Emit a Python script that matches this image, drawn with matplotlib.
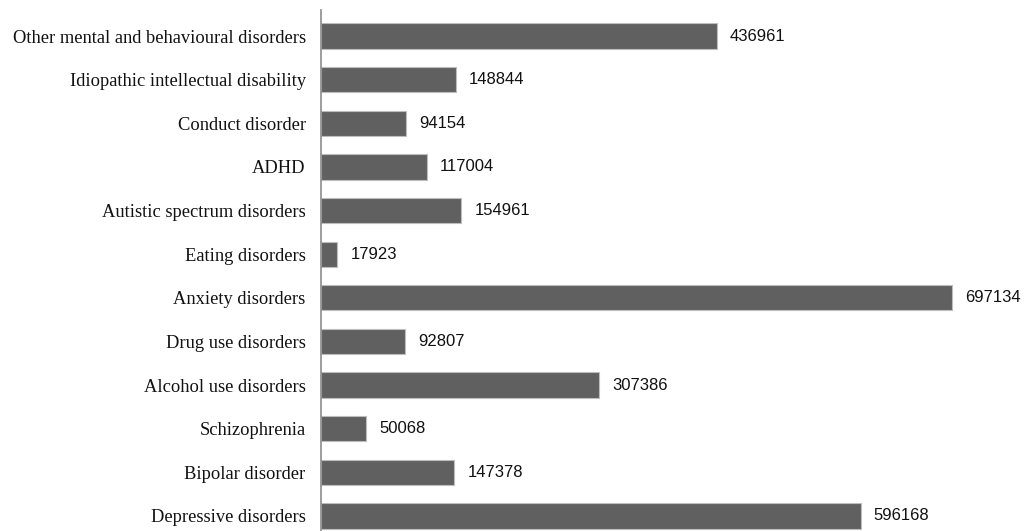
import matplotlib
matplotlib.use("Agg")
import matplotlib.pyplot as plt

categories = ["Depressive disorders", "Bipolar disorder", "Schizophrenia",
              "Alcohol use disorders", "Drug use disorders", "Anxiety disorders",
              "Eating disorders", "Autistic spectrum disorders", "ADHD",
              "Conduct disorder", "Idiopathic intellectual disability",
              "Other mental and behavioural disorders"]
values = [596168, 147378, 50068, 307386, 92807, 697134, 17923, 154961,
          117004, 94154, 148844, 436961]

W, H = 1026, 531
fig = plt.figure(figsize=(W / 100, H / 100), dpi=100)
ax = fig.add_axes([321 / W, 0, (W - 321) / W, (H - 10) / H])

ypos = list(range(len(categories)))
ax.barh(ypos, values, height=0.58, color="#606060",
        edgecolor="#bdbdbd", linewidth=0.8)

scale = 631 / 697134  # px per unit
xmax = (W - 321) / scale
ax.set_xlim(0, xmax)
ax.set_ylim(-0.344, 11.596)

for y, v in zip(ypos, values):
    ax.annotate(str(v), xy=(v, y), xytext=(9.5, 0), textcoords="offset points",
                ha="left", va="center", fontsize=12,
                family=["Liberation Sans", "DejaVu Sans"], color="#111111")

ax.set_yticks(ypos)
ax.set_yticklabels(categories, family="Liberation Serif", fontsize=13.3, color="#111111")
ax.tick_params(axis="y", length=0, pad=11)
ax.set_xticks([])
for s in ["top", "right", "bottom"]:
    ax.spines[s].set_visible(False)
ax.spines["left"].set_color("#8c8c8c")
ax.spines["left"].set_linewidth(1.2)

fig.savefig("out.png", dpi=100)
